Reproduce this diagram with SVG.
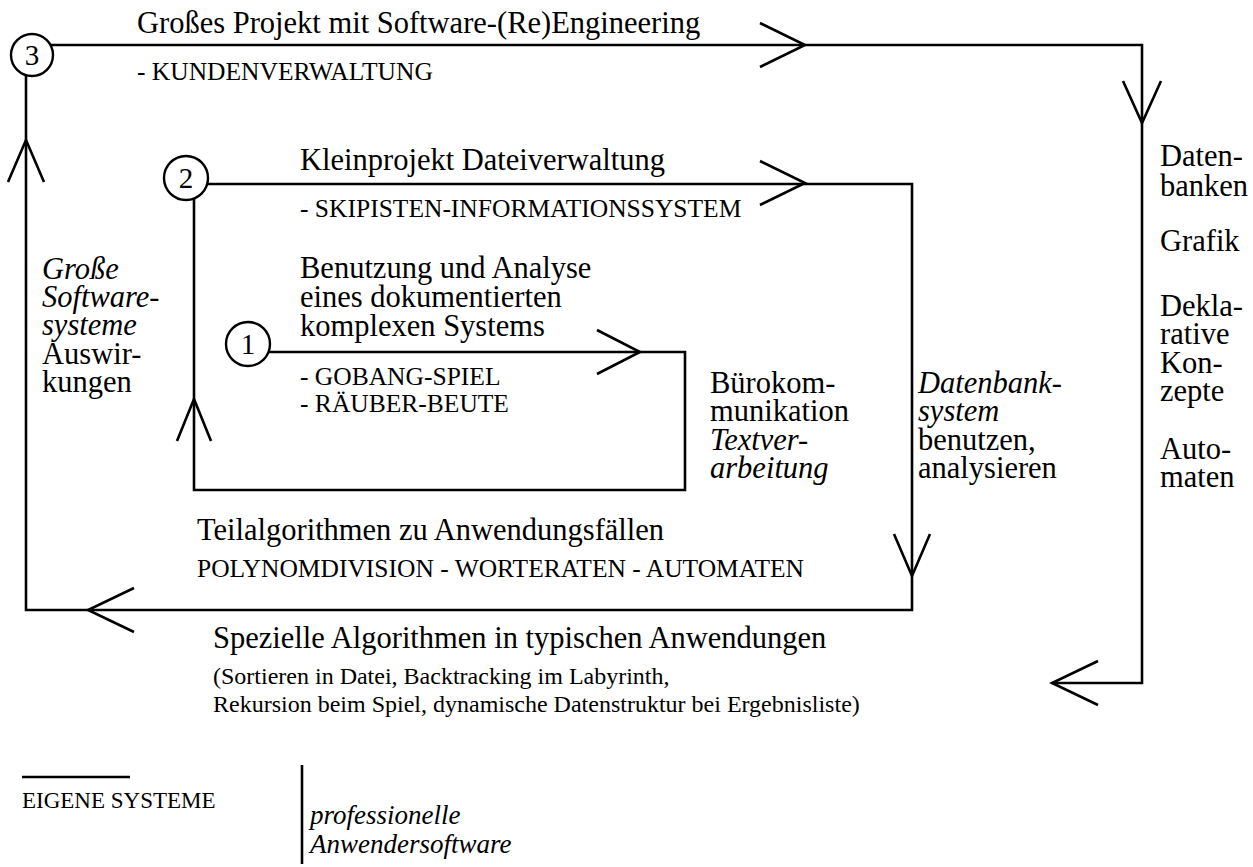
<svg xmlns="http://www.w3.org/2000/svg" width="1253" height="867" viewBox="0 0 1253 867">
<style>
.ln{fill:none;stroke:#000;stroke-width:2.6;stroke-linejoin:miter}
.ah{fill:none;stroke:#000;stroke-width:2.6;stroke-linejoin:miter}
.circ{fill:#fff;stroke:#000;stroke-width:2.4}
text{font-family:"Liberation Serif","Times New Roman",serif;fill:#000}
.big{font-size:30.5px}
.sm{font-size:25.5px}
.par{font-size:24px}
.leg{font-size:23px}
.num{font-size:29px;text-anchor:middle}
.it{font-style:italic}
.pro{font-size:27px;font-style:italic}
</style>
<rect width="1253" height="867" fill="#fff"/>
<g id="connectors">
<path class="ln" d="M50,45 H1142 V683 H1052"/>
<path class="ln" d="M207,184 H912 V610 H26 V75"/>
<path class="ln" d="M268,352 H685 V490 H194 V199"/>
<path class="ah" d="M760,23 L805,45 L760,67"/>
<path class="ah" d="M1123,81 L1142,123 L1161,81"/>
<path class="ah" d="M1098,661 L1052,683 L1098,705"/>
<path class="ah" d="M134,588 L88,610 L134,632"/>
<path class="ah" d="M8,182 L26,140 L44,182"/>
<path class="ah" d="M760,161 L805,183 L760,205"/>
<path class="ah" d="M894,534 L912,576 L930,534"/>
<path class="ah" d="M597,330 L640,352 L597,374"/>
<path class="ah" d="M177,441 L194,399 L211,441"/>
</g>
<g id="node3">
<circle class="circ" cx="32" cy="55" r="21"/>
<text class="num" x="32" y="65">3</text>
<text class="big" x="137" y="33">Großes Projekt mit Software-(Re)Engineering</text>
<text class="sm" x="137" y="80">- KUNDENVERWALTUNG</text>
</g>
<g id="node2">
<circle class="circ" cx="186" cy="178" r="22"/>
<text class="num" x="186" y="188">2</text>
<text class="big" x="300" y="170">Kleinprojekt Dateiverwaltung</text>
<text class="sm" x="300" y="217">- SKIPISTEN-INFORMATIONSSYSTEM</text>
</g>
<g id="node1">
<circle class="circ" cx="248" cy="344" r="22"/>
<text class="num" x="248" y="354">1</text>
<text class="big" x="300" y="278">Benutzung und Analyse</text>
<text class="big" x="300" y="307">eines dokumentierten</text>
<text class="big" x="300" y="336">komplexen Systems</text>
<text class="sm" x="300" y="385">- GOBANG-SPIEL</text>
<text class="sm" x="300" y="412">- RÄUBER-BEUTE</text>
</g>
<g id="label-buero">
<text class="big" x="710" y="393">Bürokom-</text>
<text class="big" x="710" y="421">munikation</text>
<text class="big it" x="710" y="450">Textver-</text>
<text class="big it" x="710" y="478">arbeitung</text>
</g>
<g id="label-datenbank">
<text class="big it" x="918" y="393">Datenbank-</text>
<text class="big it" x="918" y="421">system</text>
<text class="big" x="918" y="450">benutzen,</text>
<text class="big" x="918" y="478">analysieren</text>
</g>
<g id="label-right">
<text class="big" x="1160" y="166">Daten-</text>
<text class="big" x="1160" y="196">banken</text>
<text class="big" x="1160" y="251">Grafik</text>
<text class="big" x="1160" y="316">Dekla-</text>
<text class="big" x="1160" y="344">rative</text>
<text class="big" x="1160" y="373">Kon-</text>
<text class="big" x="1160" y="401">zepte</text>
<text class="big" x="1160" y="459">Auto-</text>
<text class="big" x="1160" y="487">maten</text>
</g>
<g id="label-left">
<text class="big it" x="42" y="279">Große</text>
<text class="big it" x="42" y="307">Software-</text>
<text class="big it" x="42" y="335">systeme</text>
<text class="big" x="42" y="364">Auswir-</text>
<text class="big" x="42" y="392">kungen</text>
</g>
<g id="label-teil">
<text class="big" x="197" y="540">Teilalgorithmen zu Anwendungsfällen</text>
<text class="sm" x="197" y="577">POLYNOMDIVISION - WORTERATEN - AUTOMATEN</text>
</g>
<g id="label-spez">
<text class="big" x="213" y="648">Spezielle Algorithmen in typischen Anwendungen</text>
<text class="par" x="213" y="684">(Sortieren in Datei, Backtracking im Labyrinth,</text>
<text class="par" x="213" y="712">Rekursion beim Spiel, dynamische Datenstruktur bei Ergebnisliste)</text>
</g>
<g id="legend">
<line class="ln" x1="22" y1="777" x2="130" y2="777"/>
<text class="leg" x="22" y="808">EIGENE SYSTEME</text>
<line class="ln" x1="302" y1="765" x2="302" y2="864"/>
<text class="pro" x="310" y="824">professionelle</text>
<text class="pro" x="310" y="853">Anwendersoftware</text>
</g>
</svg>
